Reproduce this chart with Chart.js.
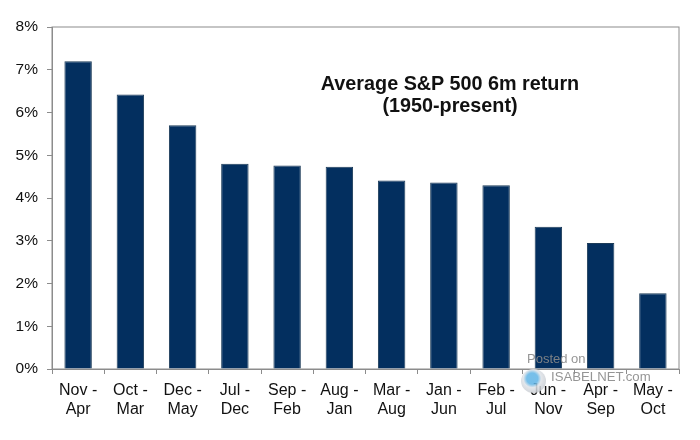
<!DOCTYPE html>
<html>
<head>
<meta charset="utf-8">
<script src="https://cdn.jsdelivr.net/npm/chart.js@4"></script>
<style>
  html, body { margin: 0; padding: 0; background: #fff; }
  #wrap { position: relative; width: 700px; height: 440px; overflow: hidden; font-family: "Liberation Sans", Arial, sans-serif; }
  #title { position: absolute; left: 300px; top: 72px; width: 300px; text-align: center; font-size: 19.8px; font-weight: bold; line-height: 22px; color: #111; }
  #posted { position: absolute; left: 527px; top: 351px; font-size: 13px; color: #8a8a8a; opacity: .9; }
  #site { position: absolute; left: 551px; top: 369px; font-size: 13.2px; color: #8a8a8a; opacity: .9; }
  #logo { position: absolute; left: 521px; top: 369px; width: 25px; height: 24px; border-radius: 50%; background: radial-gradient(circle at 45% 40%, #5fb4e6 0 28%, #dfe3e8 45%, #b5b9bf 100%); opacity: .85; }
</style>
</head>
<body>
<div id="wrap">
  <canvas id="chart" width="700" height="440"></canvas>
  <div id="title">Average S&amp;P 500 6m return<br>(1950-present)</div>
  <div id="logo"></div>
  <div id="posted">Posted on</div>
  <div id="site">ISABELNET.com</div>
</div>
<script>
const categories = [['Nov -', 'Apr'], ['Oct -', 'Mar'], ['Dec -', 'May'], ['Jul -', 'Dec'], ['Sep -', 'Feb'], ['Aug -', 'Jan'],
  ['Mar -', 'Aug'], ['Jan -', 'Jun'], ['Feb -', 'Jul'], ['Jun -', 'Nov'], ['Apr -', 'Sep'], ['May -', 'Oct']];
const returns = [7.2, 6.42, 5.7, 4.8, 4.76, 4.73, 4.41, 4.36, 4.3, 3.33, 2.95, 1.77];

const axisColor = '#8c8c8c';

// Box line around the plot area
const plotBorder = {
  id: 'plotBorder',
  beforeDatasetsDraw(chart) {
    const { ctx, chartArea: a } = chart;
    ctx.save();
    ctx.strokeStyle = axisColor;
    ctx.lineWidth = 1;
    ctx.strokeRect(a.left, a.top, a.right - a.left, a.bottom - a.top);
    ctx.restore();
  }
};

new Chart(document.getElementById('chart'), {
  type: 'bar',
  data: {
    labels: categories,
    datasets: [{
      data: returns,
      backgroundColor: '#032f5f',
      borderColor: '#1c3b58',
      borderWidth: 1,
      barPercentage: 0.525,
      categoryPercentage: 1
    }]
  },
  options: {
    responsive: false,
    animation: false,
    devicePixelRatio: 1,
    layout: { padding: { top: 27, right: 21, bottom: 0, left: 0 } },
    plugins: {
      legend: { display: false },
      tooltip: { enabled: false }
    },
    scales: {
      x: {
        afterFit(scale) { scale.height = 71; },
        grid: { drawOnChartArea: false, color: axisColor, tickLength: 5, offset: true },
        border: { color: axisColor },
        ticks: { color: '#111', maxRotation: 0, autoSkip: false, padding: 7, font: { family: 'Liberation Sans', size: 16, lineHeight: 1.18 } }
      },
      y: {
        min: 0,
        max: 8,
        afterFit(scale) { scale.width = 52; },
        grid: { drawOnChartArea: false, color: axisColor, tickLength: 5 },
        border: { color: axisColor },
        ticks: { stepSize: 1, color: '#111', padding: 9, callback: v => v + '%', font: { family: 'Liberation Sans', size: 15.5 } }
      }
    }
  },
  plugins: [plotBorder]
});
</script>
</body>
</html>
